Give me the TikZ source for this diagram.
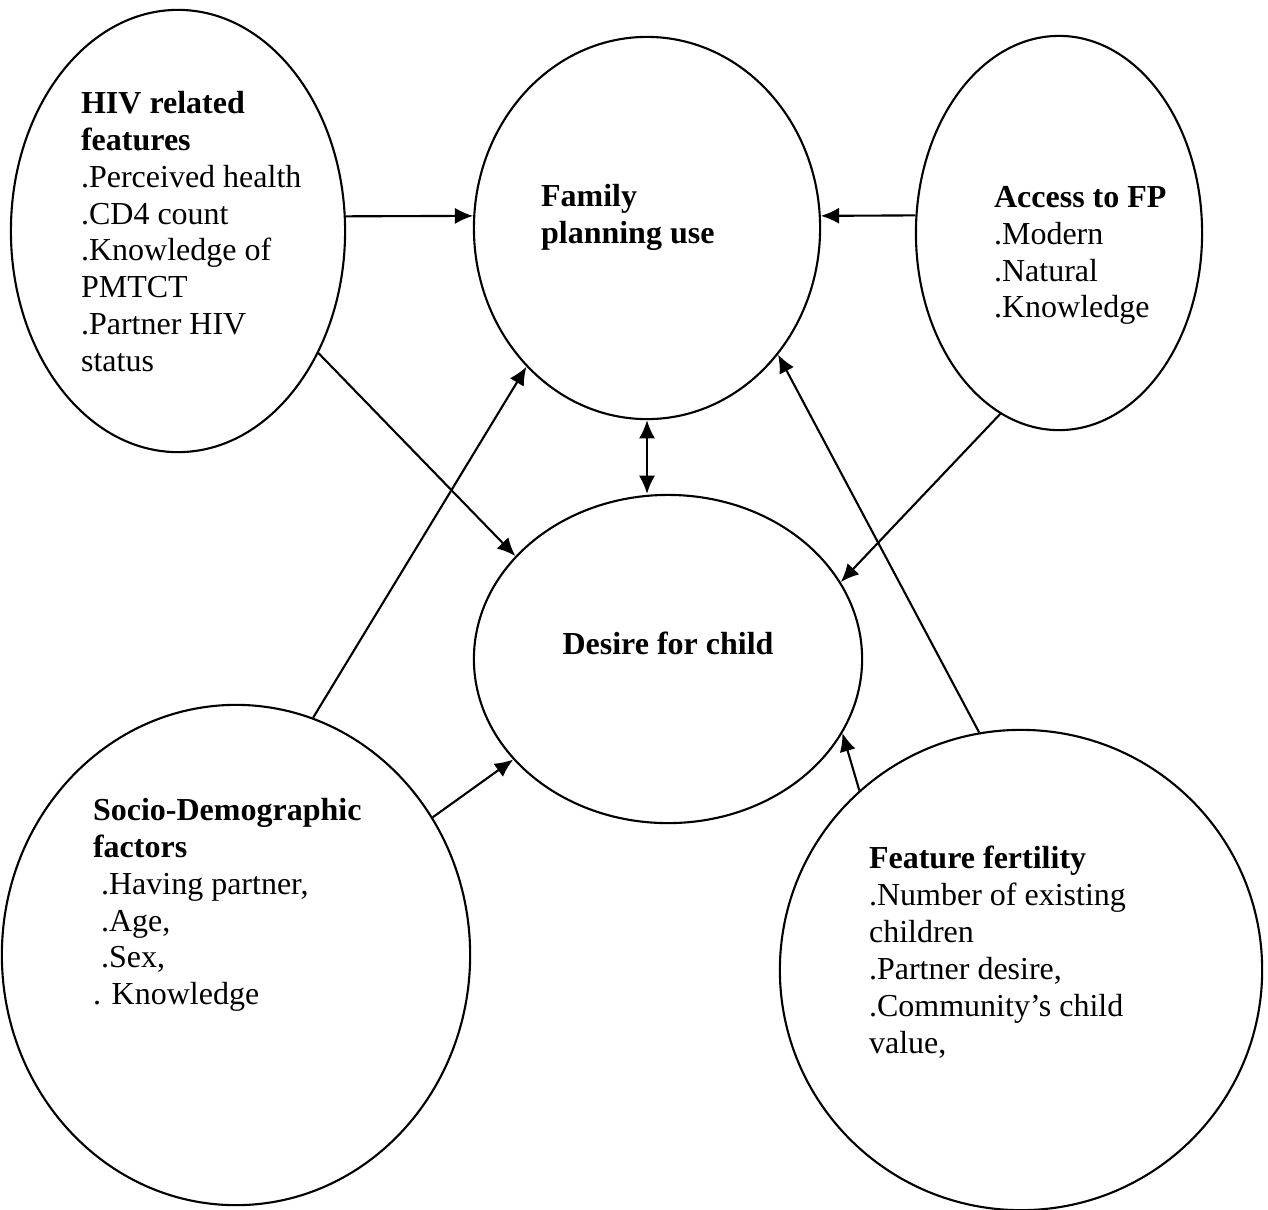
\documentclass[tikz,border=0pt]{standalone}
\usepackage{fontspec}
\setmainfont{Liberation Serif}
\usetikzlibrary{shapes.geometric,arrows.meta}

\begin{document}
\begin{tikzpicture}[x=0.01cm,y=-0.01cm,line width=0.6pt,>={Latex[length=5.2pt,width=4.6pt]},
  bubble/.style={ellipse,draw,inner sep=0pt},
  txt/.style={anchor=north west,align=left,inner sep=0pt,font=\fontsize{9.1}{10.5}\selectfont}]
\useasboundingbox (0,0) rectangle (1268,1209);
% the six bubbles
\node[bubble,minimum width=3.34cm,minimum height=4.42cm] (hiv) at (178,231) {};
\node[bubble,minimum width=3.46cm,minimum height=3.82cm] (fp) at (647,228) {};
\node[bubble,minimum width=2.86cm,minimum height=3.94cm] (access) at (1059,233) {};
\node[bubble,minimum width=3.88cm,minimum height=3.28cm] (desire) at (668,659) {};
\node[bubble,minimum width=4.68cm,minimum height=5.00cm] (socio) at (236,955) {};
\node[bubble,minimum width=4.82cm,minimum height=4.80cm] (fert) at (1021,970) {};
% texts
\node[txt] (hivtxt) at (80,90) {\textbf{HIV related}\\\textbf{features}\\.Perceived health\\.CD4 count\\.Knowledge of\\PMTCT\\.Partner HIV\\status};
\node[txt] (fptxt) at (540,183) {\textbf{Family}\\\textbf{planning use}};
\node[txt] (accesstxt) at (993,185) {\textbf{Access to FP}\\.Modern\\.Natural\\.Knowledge};
\node[font=\fontsize{9.1}{10.5}\selectfont,inner sep=0pt] (desiretxt) at (668,643) {\textbf{Desire for child}};
\node[txt] (sociotxt) at (92,797) {\textbf{Socio-Demographic}\\\textbf{factors}\\\hspace*{.25em}.Having partner,\\\hspace*{.25em}.Age,\\\hspace*{.25em}.Sex,\\. Knowledge};
\node[txt] (serttxt) at (868,845) {\textbf{Feature fertility}\\.Number of existing\\children\\.Partner desire,\\.Community’s child\\value,};
% arrows
\draw[->] (hiv.5) -- (fp.176);
\draw[->] (access.173) -- (fp.4);
\draw[<->] (fp.south) -- (fp.south |- desire.north);
\draw[->] (hiv.319) -- (desire.146);
\draw[->] (access.252) -- (desire.24);
\draw[->] (socio.72) -- (fp.229);
\draw[->] (socio.35) -- (desire.213);
\draw[->] (fert.100) -- (fp.316);
\draw[->] (fert.132) -- (desire.337);
\end{tikzpicture}
\end{document}
